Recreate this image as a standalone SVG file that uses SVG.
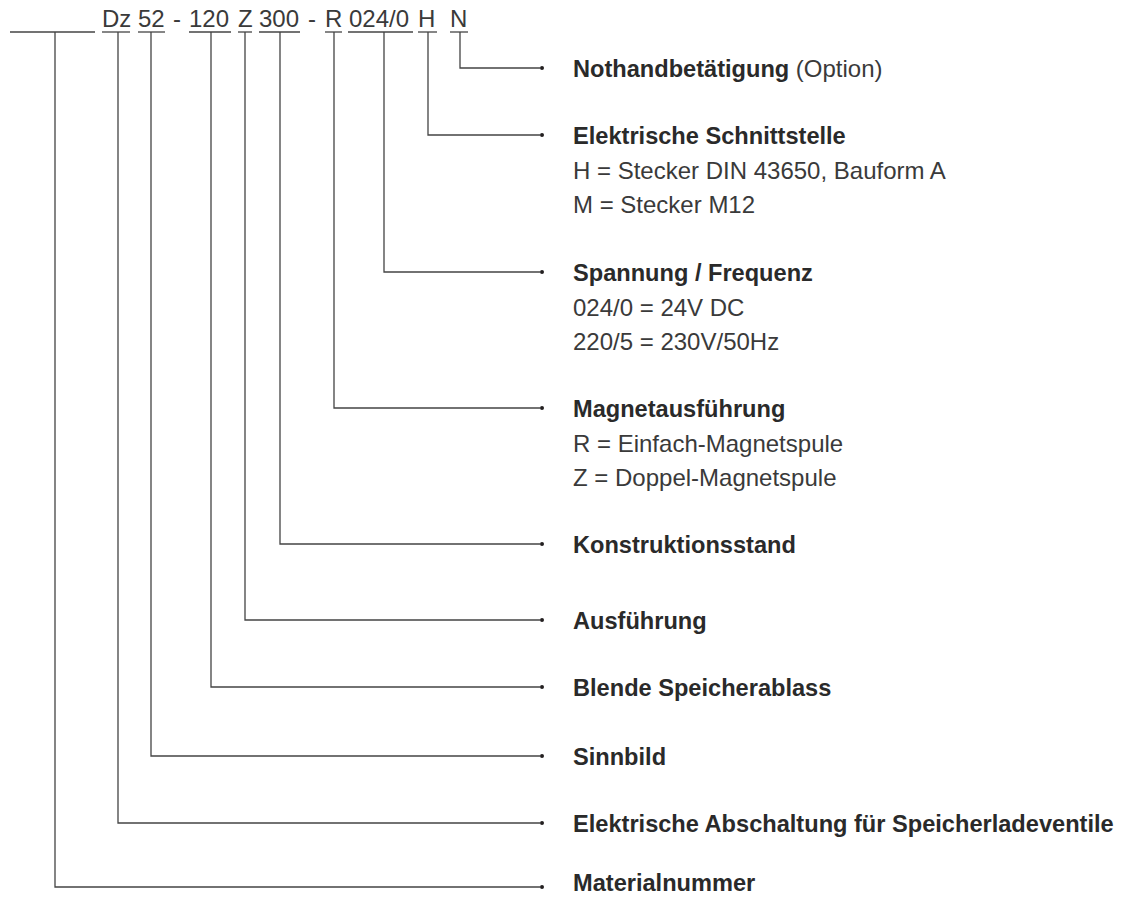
<svg xmlns="http://www.w3.org/2000/svg" width="1123" height="897" viewBox="0 0 1123 897">
<style>
.t{font-family:"Liberation Sans",Arial,Helvetica,sans-serif;font-size:24px;fill:#333}
.b{font-weight:bold;font-size:23.6px;fill:#2a2a2a}
.r{font-weight:normal;fill:#3a3a3a}
.ln{fill:none;stroke:#444;stroke-width:1.3}
.dot{fill:#231f20}
</style>
<rect width="1123" height="897" fill="#fff"/>
<g id="code">
<text class="t r" x="102" y="27">Dz</text>
<text class="t r" x="138" y="27">52</text>
<text class="t r" x="173" y="27">-</text>
<text class="t r" x="189" y="27">120</text>
<text class="t r" x="238" y="27">Z</text>
<text class="t r" x="259" y="27">300</text>
<text class="t r" x="308" y="27">-</text>
<text class="t r" x="325" y="27">R</text>
<text class="t r" x="349" y="27">024/0</text>
<text class="t r" x="418" y="27">H</text>
<text class="t r" x="450" y="27">N</text>
<g class="ln">
<line x1="10" y1="32" x2="95" y2="32"/>
<line x1="102" y1="32" x2="130" y2="32"/>
<line x1="138" y1="32" x2="165" y2="32"/>
<line x1="189" y1="32" x2="231" y2="32"/>
<line x1="238" y1="32" x2="252" y2="32"/>
<line x1="259" y1="32" x2="300" y2="32"/>
<line x1="325" y1="32" x2="342" y2="32"/>
<line x1="348" y1="32" x2="413" y2="32"/>
<line x1="418" y1="32" x2="437" y2="32"/>
<line x1="450" y1="32" x2="468" y2="32"/>
</g>
</g>
<g id="connectors">
<path class="ln" d="M460 32V68H540"/>
<path class="ln" d="M428 32V135H540"/>
<path class="ln" d="M384 32V272H540"/>
<path class="ln" d="M334 32V408H540"/>
<path class="ln" d="M280 32V544H540"/>
<path class="ln" d="M245 32V620H540"/>
<path class="ln" d="M211 32V687H540"/>
<path class="ln" d="M151 32V756H540"/>
<path class="ln" d="M118 32V823H540"/>
<path class="ln" d="M55 32V887H540"/>
<g class="dot">
<circle cx="542" cy="68" r="2"/>
<circle cx="542" cy="135" r="2"/>
<circle cx="542" cy="272" r="2"/>
<circle cx="542" cy="408" r="2"/>
<circle cx="542" cy="544" r="2"/>
<circle cx="542" cy="620" r="2"/>
<circle cx="542" cy="687" r="2"/>
<circle cx="542" cy="756" r="2"/>
<circle cx="542" cy="823" r="2"/>
<circle cx="542" cy="887" r="2"/>
</g>
</g>
<g id="n-nothand"><text class="t b" x="573" y="77">Nothandbetätigung <tspan class="r" style="font-size:24px">(Option)</tspan></text></g>
<g id="n-schnittstelle">
<text class="t b" x="573" y="144">Elektrische Schnittstelle</text>
<text class="t r" x="573" y="179">H = Stecker DIN 43650, Bauform A</text>
<text class="t r" x="573" y="213">M = Stecker M12</text>
</g>
<g id="n-spannung">
<text class="t b" x="573" y="281">Spannung / Frequenz</text>
<text class="t r" x="573" y="316">024/0 = 24V DC</text>
<text class="t r" x="573" y="350">220/5 = 230V/50Hz</text>
</g>
<g id="n-magnet">
<text class="t b" x="573" y="417">Magnetausführung</text>
<text class="t r" x="573" y="452">R = Einfach-Magnetspule</text>
<text class="t r" x="573" y="486">Z = Doppel-Magnetspule</text>
</g>
<g id="n-konstruktion"><text class="t b" x="573" y="553">Konstruktionsstand</text></g>
<g id="n-ausfuehrung"><text class="t b" x="573" y="629">Ausführung</text></g>
<g id="n-blende"><text class="t b" x="573" y="696">Blende Speicherablass</text></g>
<g id="n-sinnbild"><text class="t b" x="573" y="765">Sinnbild</text></g>
<g id="n-abschaltung"><text class="t b" x="573" y="832">Elektrische Abschaltung für Speicherladeventile</text></g>
<g id="n-material"><text class="t b" x="573" y="891">Materialnummer</text></g>
</svg>
